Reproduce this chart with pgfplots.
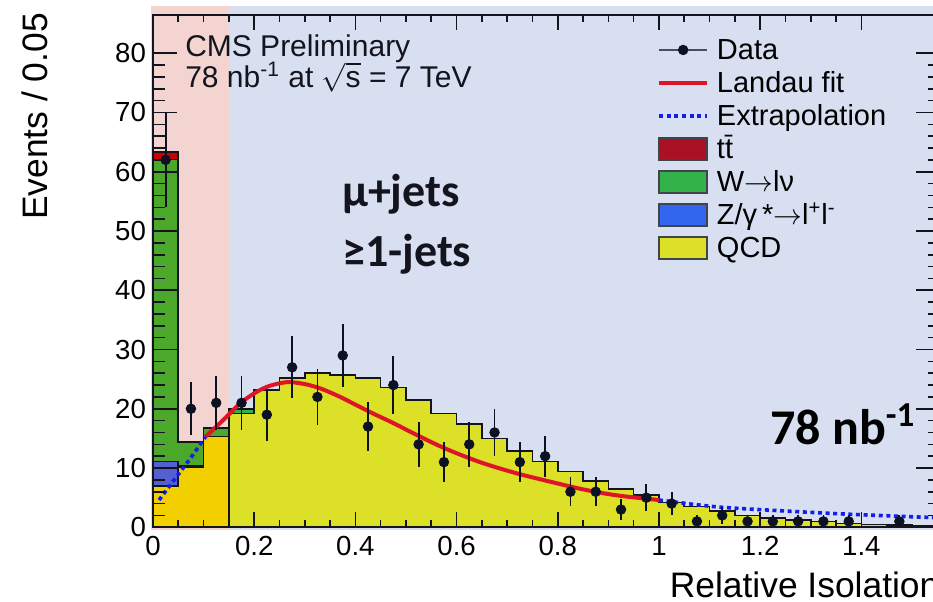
\documentclass[border=0pt]{standalone}
\usepackage{amsmath}
\usepackage{pgfplots}
\pgfplotsset{compat=1.18}
\usepackage{fontspec}
\setmainfont{Liberation Sans}
\newfontfamily\carlito{Carlito}

\definecolor{pinkbg}{RGB}{243,212,208}
\definecolor{bluebg}{RGB}{215,223,241}
\definecolor{qcdA}{RGB}{242,208,0}
\definecolor{qcdB}{RGB}{220,224,38}
\definecolor{wA}{RGB}{76,168,42}
\definecolor{wB}{RGB}{51,178,74}
\definecolor{zA}{RGB}{85,96,208}
\definecolor{zB}{RGB}{51,102,238}
\definecolor{ttA}{RGB}{204,0,0}
\definecolor{ttB}{RGB}{170,17,34}
\definecolor{datcol}{RGB}{12,18,36}
\definecolor{fitred}{RGB}{222,20,40}
\definecolor{extblue}{RGB}{20,30,235}
\definecolor{edge}{RGB}{20,20,30}

\begin{document}
\begin{tikzpicture}
\begin{axis}[
  at={(0pt,0pt)}, anchor=south west,
  scale only axis,
  width=393.4pt, height=256.3pt,
  xmin=0, xmax=1.555, ymin=0, ymax=86.5,
  clip=false,
  axis on top,
  xtick={0,0.2,0.4,0.6,0.8,1,1.2,1.4},
  ytick={0,10,20,30,40,50,60,70,80},
  minor x tick num=3,
  minor y tick num=4,
  tick align=inside,
  xtick style={/pgfplots/major tick length=7.5pt, /pgfplots/minor tick length=3.8pt},
  ytick style={/pgfplots/major tick length=12pt, /pgfplots/minor tick length=6pt},
  every tick/.style={edge, line width=0.8pt},
  axis line style={edge, line width=1pt},
  /pgf/number format/assume math mode=true,
  tick label style={font=\fontsize{13.8}{16}\selectfont},
  xticklabel style={yshift=-1pt},
  xlabel={Relative Isolation},
  ylabel={Events / 0.05},
  every axis x label/.style={at={(rel axis cs:1,0)}, anchor=base east, yshift=-35pt, inner sep=0pt, font=\fontsize{17.7}{20}\selectfont},
  every axis y label/.style={at={(rel axis cs:0,1)}, xshift=-59pt, yshift=1pt, rotate=90, anchor=east, inner sep=0pt, font=\fontsize{17.7}{20}\selectfont},
  legend style={at={(axis cs:0.996,83.4)}, anchor=north west, draw=none, fill=none, inner sep=0pt,
    font=\fontsize{14.5}{17}\selectfont, row sep=0pt,
    nodes={text height=12pt, text depth=2.5pt, inner sep=1pt, anchor=west},
    /tikz/every odd column/.append style={column sep=3pt}},
  legend cell align=left,
]

% shaded selection regions
\fill[pinkbg] (axis cs:-0.004,-0.5) rectangle (axis cs:0.15,88);
\fill[bluebg] (axis cs:0.15,-0.5) rectangle (axis cs:1.6,88);

% stacked histograms, region 0 - 0.15
\addplot[const plot mark left, fill=ttA, draw=edge, line width=0.8pt, forget plot] coordinates {
  (0,63.3) (0.05,14.5) (0.1,16.8) (0.15,16.8)} \closedcycle;
\addplot[const plot mark left, fill=wA, draw=edge, line width=0.8pt, forget plot] coordinates {
  (0,62.1) (0.05,14.4) (0.1,16.7) (0.15,16.7)} \closedcycle;
\addplot[const plot mark left, fill=zA, draw=edge, line width=0.8pt, forget plot] coordinates {
  (0,11.1) (0.05,10.3) (0.1,15.3) (0.15,15.3)} \closedcycle;
\addplot[const plot mark left, fill=qcdA, draw=edge, line width=0.8pt, forget plot] coordinates {
  (0,7.0) (0.05,10.2) (0.1,15.3) (0.15,15.3)} \closedcycle;

% stacked histograms, region 0.15 - 1.55
\addplot[const plot mark left, fill=wB, draw=edge, line width=0.8pt, forget plot] coordinates {
  (0.15,20.0) (0.2,20.0)} \closedcycle;
\addplot[const plot mark left, fill=qcdB, draw=edge, line width=0.8pt, forget plot] coordinates {
  (0.15,19.2) (0.2,23.2) (0.25,25.2) (0.3,26.0) (0.35,25.7) (0.4,25.2) (0.45,23.6)
  (0.5,21.5) (0.55,19.2) (0.6,17.4) (0.65,15.0) (0.7,12.9) (0.75,11.1) (0.8,9.4)
  (0.85,7.8) (0.9,6.5) (0.95,5.45) (1.0,4.2) (1.05,3.5) (1.1,2.75) (1.15,1.96)
  (1.2,1.6) (1.25,1.23) (1.3,0.95) (1.35,0.67) (1.4,0.5) (1.45,0.34) (1.5,0.22) (1.555,0.22)} \closedcycle;

% Landau fit and extrapolation
\addplot[extblue, line width=1.8pt, dash pattern=on 2pt off 1.8pt, forget plot] coordinates {
  (0.012,4.6) (0.04,7.8) (0.072,11.4) (0.104,15.3)};
\addplot[extblue, line width=1.8pt, dash pattern=on 2pt off 1.8pt, smooth, forget plot] coordinates {
  (1.0,4.6) (1.114,3.45) (1.246,2.77) (1.377,2.2) (1.555,1.6)};
\addplot[fitred, line width=2pt, smooth, forget plot] coordinates {
  (0.104,15.3) (0.14,18.2) (0.172,20.9) (0.2,22.6) (0.225,23.7) (0.25,24.3) (0.272,24.5)
  (0.304,24.1) (0.335,23.3) (0.37,22.0) (0.40,20.7) (0.435,19.2) (0.47,17.8) (0.50,16.5)
  (0.535,15.0) (0.567,13.7) (0.60,12.5) (0.653,10.8) (0.719,9.1) (0.785,7.7) (0.85,6.4)
  (0.916,5.4) (1.0,4.6)};

% data
\addplot[only marks, mark=*, mark size=2.4pt, color=datcol, forget plot,
  error bars/.cd, y dir=both, y explicit, error mark=none,
  error bar style={line width=0.9pt, datcol}] coordinates {
  (0.025,62) +- (0,7.87) (0.075,20) +- (0,4.47) (0.125,21) +- (0,4.58)
  (0.175,21) +- (0,4.58) (0.225,19) +- (0,4.36) (0.275,27) +- (0,5.2)
  (0.325,22) +- (0,4.69) (0.375,29) +- (0,5.39) (0.425,17) +- (0,4.12)
  (0.475,24) +- (0,4.9) (0.525,14) +- (0,3.74) (0.575,11) +- (0,3.32)
  (0.625,14) +- (0,3.74) (0.675,16) +- (0,4.0) (0.725,11) +- (0,3.32)
  (0.775,12) +- (0,3.46) (0.825,6) +- (0,2.45) (0.875,6) +- (0,2.45)
  (0.925,3) +- (0,1.73) (0.975,5) +- (0,2.24) (1.025,4) +- (0,2.0)
  (1.075,1) +- (0,1) (1.125,2) +- (0,1.41) (1.175,1) +- (0,1)
  (1.225,1) +- (0,1) (1.275,1) +- (0,1) (1.325,1) +- (0,1)
  (1.375,1) +- (0,1) (1.475,1) +- (0,1)};

% legend
\addlegendimage{legend image code/.code={
  \draw[datcol!75, line width=0.8pt] (0pt,0pt) -- (24pt,0pt);
  \fill[datcol] (12pt,0pt) circle (2.4pt);}}
\addlegendentry{Data}
\addlegendimage{legend image code/.code={
  \draw[fitred, line width=1.6pt] (0pt,0pt) -- (24pt,0pt);}}
\addlegendentry{Landau fit}
\addlegendimage{legend image code/.code={
  \draw[extblue, line width=1.8pt, dash pattern=on 2pt off 1.8pt] (0pt,0pt) -- (24pt,0pt);}}
\addlegendentry{Extrapolation}
\addlegendimage{legend image code/.code={
  \filldraw[fill=ttB, draw=edge!80, line width=0.8pt] (0pt,-5.5pt) rectangle (24pt,5.5pt);}}
\addlegendentry{t\=t}
\addlegendimage{legend image code/.code={
  \filldraw[fill=wB, draw=edge!80, line width=0.8pt] (0pt,-5.5pt) rectangle (24pt,5.5pt);}}
\addlegendentry{W$\rightarrow$lν}
\addlegendimage{legend image code/.code={
  \filldraw[fill=zB, draw=edge!80, line width=0.8pt] (0pt,-5.5pt) rectangle (24pt,5.5pt);}}
\addlegendentry{Z/γ\,*$\rightarrow$l\textsuperscript{+}l\textsuperscript{-}}
\addlegendimage{legend image code/.code={
  \filldraw[fill=qcdB, draw=edge!80, line width=0.8pt] (0pt,-5.5pt) rectangle (24pt,5.5pt);}}
\addlegendentry{QCD}

% annotations
\node[anchor=base west, inner sep=0pt, font=\fontsize{15}{17}\selectfont, text=edge]
  at (axis cs:0.063,79.4) {CMS Preliminary};
\node[anchor=base west, inner sep=0pt, font=\fontsize{15}{17}\selectfont, text=edge]
  at (axis cs:0.063,74.3) {78 nb\textsuperscript{-1} at $\sqrt{\text{s}}$ = 7 TeV};
\node[anchor=base west, inner sep=0pt, font=\carlito\bfseries\fontsize{23}{27}\selectfont, text=edge]
  at (axis cs:0.373,54.1) {μ+jets};
\node[anchor=base west, inner sep=0pt, font=\carlito\bfseries\fontsize{23}{27}\selectfont, text=edge]
  at (axis cs:0.373,44.0) {≥1-jets};
\node[anchor=base west, inner sep=0pt, font=\carlito\bfseries\fontsize{25}{29}\selectfont, text=black]
  at (axis cs:1.219,13.9) {78 nb\textsuperscript{-1}};
\end{axis}
\pgfresetboundingbox
\path[use as bounding box] (-76.5pt,-36.85pt) rectangle (390pt,263.65pt);
\end{tikzpicture}
\end{document}
